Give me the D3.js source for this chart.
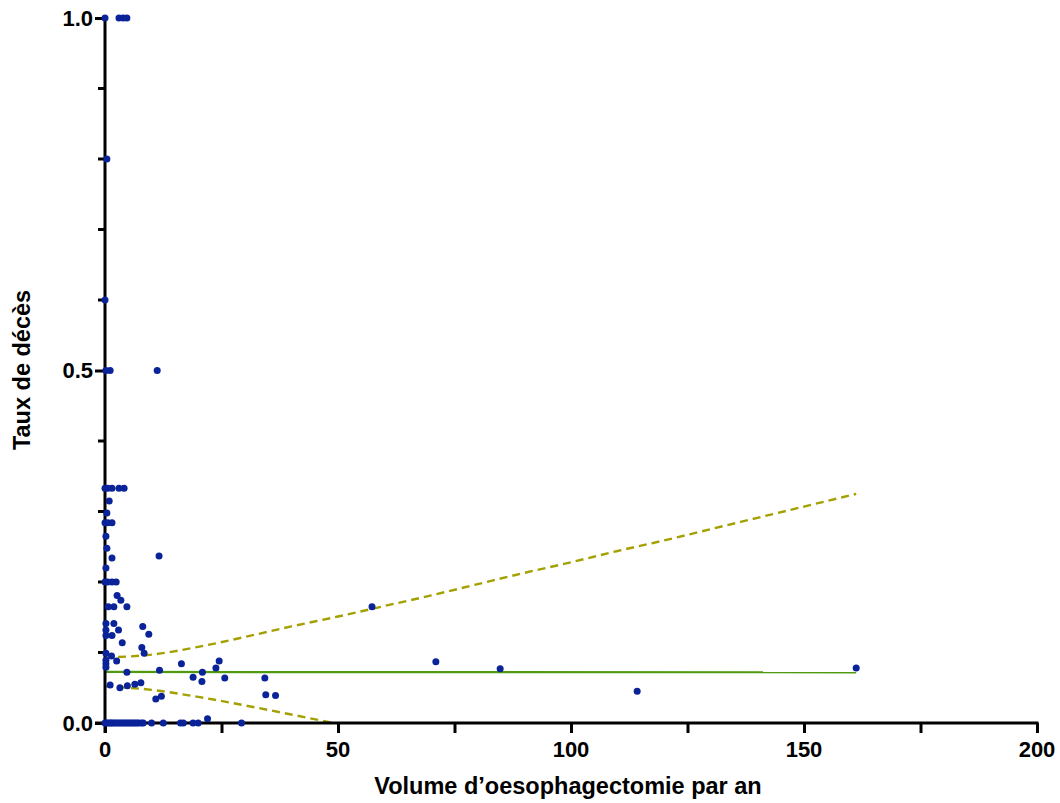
<!DOCTYPE html>
<html>
<head>
<meta charset="utf-8">
<script src="https://cdn.jsdelivr.net/npm/d3@7"></script>
<style>
  html, body { margin: 0; padding: 0; background: #fff; }
  svg { display: block; }
  text { font-family: Arial, "Liberation Sans", Helvetica, sans-serif; font-weight: bold; fill: #000; }
</style>
</head>
<body>
<svg id="chart" width="1060" height="803"></svg>
<script>
// ---- Data ----
const volumeX = [
  0, 3.0, 3.9, 4.7,
  0.4, 0, 0.2, 1.1, 11.2,
  0, 0.6, 1.5, 3.0, 4.1,
  0.9, 0.4, 0, 0.6, 1.5, 0.2, 0.4, 1.5, 11.6, 0.2,
  0, 0.6, 1.5, 2.4, 2.6, 3.4,
  0.7, 1.9, 4.7, 57.3,
  0.2, 1.9, 8.1, 0.2, 2.9, 0.2, 1.5, 9.4, 3.7, 7.9, 8.4,
  0.2, 1.4, 0.2, 0.2, 2.5, 0.2,
  4.7, 11.7, 16.4, 18.9, 20.8, 20.9, 23.8, 24.5, 25.7,
  34.3, 34.5, 36.6,
  1.1, 3.2, 4.8, 6.4, 7.7, 10.9, 12.1, 22.0,
  71.0, 84.8, 114.2, 161.2,
  0, 0.3, 0.6, 1.0, 1.3, 1.6, 2.0, 2.4, 2.8, 3.2, 3.6, 4.0, 4.4, 4.8, 5.2, 5.6, 6.0, 6.4, 6.8, 7.2, 7.8, 8.2,
  10.0, 12.5, 16.2, 16.8, 18.9, 20.0, 29.3
];
const deathRate = [
  1.0, 1.0, 1.0, 1.0,
  0.8, 0.6, 0.5, 0.5, 0.5,
  0.333, 0.333, 0.333, 0.333, 0.333,
  0.315, 0.298, 0.284, 0.284, 0.284, 0.265, 0.248, 0.234, 0.237, 0.22,
  0.2, 0.2, 0.2, 0.2, 0.181, 0.174,
  0.165, 0.165, 0.165, 0.165,
  0.141, 0.141, 0.137, 0.132, 0.132, 0.124, 0.124, 0.126, 0.114, 0.107, 0.099,
  0.099, 0.095, 0.089, 0.084, 0.088, 0.079,
  0.072, 0.075, 0.084, 0.065, 0.059, 0.072, 0.078, 0.088, 0.064,
  0.064, 0.040, 0.039,
  0.054, 0.05, 0.053, 0.055, 0.057, 0.034, 0.038, 0.006,
  0.087, 0.077, 0.045, 0.078,
  0, 0, 0, 0, 0, 0, 0, 0, 0, 0, 0, 0, 0, 0, 0, 0, 0, 0, 0, 0, 0, 0,
  0, 0, 0, 0, 0, 0, 0
];

// Regression line and confidence band
const fitX = [0, 161.2];
const fitY = [0.0724, 0.0719];
const upperX = [0, 10, 20, 30, 40, 50, 60, 70, 80, 90, 100, 110, 120, 130, 140, 150, 161.2];
const upperY = [0.093, 0.097, 0.108, 0.122, 0.137, 0.151, 0.166, 0.181, 0.197, 0.213, 0.228, 0.244, 0.259, 0.275, 0.291, 0.307, 0.325];
const lowerX = [0, 10, 20, 30, 40, 49];
const lowerY = [0.052, 0.047, 0.037, 0.025, 0.012, 0.0];

const xTicksMajor = [0, 50, 100, 150, 200];
const xTicksMinor = [25, 75, 125, 175];
const yTicksMajor = [0, 0.5, 1.0];
const yTicksMinor = [0.1, 0.2, 0.3, 0.4, 0.6, 0.7, 0.8, 0.9];

const xTitle = "Volume d\u2019oesophagectomie par an";
const yTitle = "Taux de décès";

// ---- Drawing ----
const svg = d3.select("#chart");
const x = d3.scaleLinear().domain([0, 200]).range([105, 1037]);
const y = d3.scaleLinear().domain([0, 1]).range([723, 18]);

// confidence band (dashed)
const line = d3.line().x(d => x(d[0])).y(d => y(d[1])).curve(d3.curveMonotoneX);
const dashColor = "#a3a000";
svg.append("path")
  .datum(upperX.map((v, i) => [v, upperY[i]]))
  .attr("d", line).attr("fill", "none")
  .attr("stroke", dashColor).attr("stroke-width", 2.4).attr("stroke-dasharray", "8,5");
svg.append("path")
  .datum(lowerX.map((v, i) => [v, lowerY[i]]))
  .attr("d", line).attr("fill", "none")
  .attr("stroke", dashColor).attr("stroke-width", 2.4).attr("stroke-dasharray", "8,5");

// fitted line
svg.append("path")
  .datum(fitX.map((v, i) => [v, fitY[i]]))
  .attr("d", d3.line().x(d => x(d[0])).y(d => y(d[1])))
  .attr("fill", "none").attr("stroke", "#4f9a10").attr("stroke-width", 2.2);

// axes
const xAxisG = svg.append("g").attr("transform", "translate(0,723)");
xAxisG.call(d3.axisBottom(x).tickValues(xTicksMajor.concat(xTicksMinor)).tickSize(10).tickFormat(""));
xAxisG.select(".domain").remove();
xAxisG.selectAll(".tick line").attr("stroke", "#000").attr("stroke-width", 3);
xAxisG.append("line").attr("x1", 95).attr("x2", x(200) + 1.5).attr("y1", 0).attr("y2", 0)
  .attr("stroke", "#000").attr("stroke-width", 3);
xAxisG.selectAll(".lbl").data(xTicksMajor).enter().append("text")
  .attr("x", d => x(d)).attr("y", 34).attr("text-anchor", "middle")
  .style("font-size", "22px").text(d => d);

const yAxisG = svg.append("g").attr("transform", "translate(105,0)");
yAxisG.call(d3.axisLeft(y).tickValues(yTicksMajor).tickSize(10).tickFormat(""));
yAxisG.select(".domain").remove();
yAxisG.selectAll(".tick line").attr("stroke", "#000").attr("stroke-width", 3);
yAxisG.selectAll(".minor").data(yTicksMinor).enter().append("line")
  .attr("x1", -7).attr("x2", 0).attr("y1", d => y(d)).attr("y2", d => y(d))
  .attr("stroke", "#000").attr("stroke-width", 3);
yAxisG.append("line").attr("x1", 0).attr("x2", 0).attr("y1", y(1) - 1.5).attr("y2", 733)
  .attr("stroke", "#000").attr("stroke-width", 3);
yAxisG.selectAll(".lbl").data(yTicksMajor).enter().append("text")
  .attr("x", -12).attr("y", d => y(d)).attr("dy", "0.36em").attr("text-anchor", "end")
  .style("font-size", "22px").text(d => d3.format(".1f")(d));

// points
svg.append("g").selectAll("circle")
  .data(volumeX.map((v, i) => [v, deathRate[i]]))
  .enter().append("circle")
  .attr("cx", d => x(d[0])).attr("cy", d => y(d[1])).attr("r", 3.5)
  .attr("fill", "#0a2399");

// titles
svg.append("text").attr("x", 568).attr("y", 794).attr("text-anchor", "middle")
  .style("font-size", "23.5px").text(xTitle);
svg.append("text").attr("transform", "translate(30,370) rotate(-90)").attr("text-anchor", "middle")
  .style("font-size", "23.5px").text(yTitle);
</script>
</body>
</html>
